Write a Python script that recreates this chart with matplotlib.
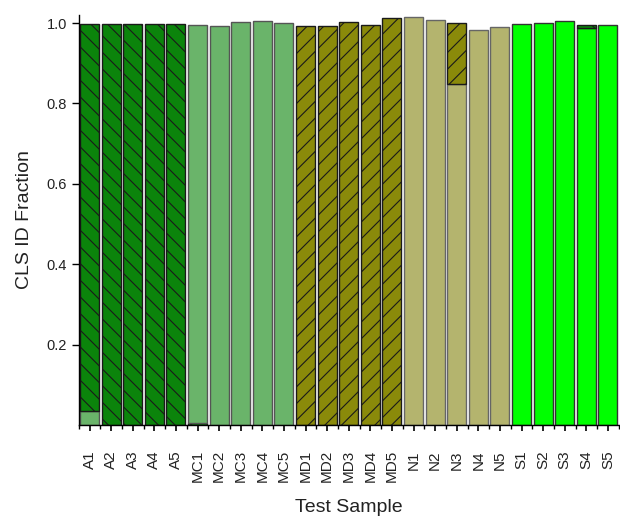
import matplotlib
matplotlib.use("Agg")
import matplotlib.pyplot as plt
from matplotlib.ticker import FixedLocator

plt.rcParams['font.family'] = ['Liberation Sans', 'DejaVu Sans']
plt.rcParams['hatch.linewidth'] = 0.8

# Samples and the class of each bar segment
samples = ['A1', 'A2', 'A3', 'A4', 'A5',
           'MC1', 'MC2', 'MC3', 'MC4', 'MC5',
           'MD1', 'MD2', 'MD3', 'MD4', 'MD5',
           'N1', 'N2', 'N3', 'N4', 'N5',
           'S1', 'S2', 'S3', 'S4', 'S5']

# bottom segment of each bar
lower_class = ['MC', 'A', 'A', 'A', 'A',
               'A', 'MC', 'MC', 'MC', 'MC',
               'MD', 'MD', 'MD', 'MD', 'MD',
               'N', 'N', 'N', 'N', 'N',
               'S', 'S', 'S', 'S', 'S']
lower_frac = [0.035, 0.998, 0.998, 0.998, 0.998,
              0.005, 0.993, 1.003, 1.004, 0.999,
              0.992, 0.993, 1.003, 0.995, 1.012,
              1.014, 1.007, 0.848, 0.983, 0.990,
              0.998, 0.999, 1.004, 0.988, 0.995]

# top segment of each bar (misclassified part)
upper_class = ['A', None, None, None, None,
               'MC', None, None, None, None,
               None, None, None, None, None,
               None, None, 'MD', None, None,
               None, None, None, 'A', None]
upper_frac = [0.963, 0, 0, 0, 0,
              0.991, 0, 0, 0, 0,
              0, 0, 0, 0, 0,
              0, 0, 0.152, 0, 0,
              0, 0, 0, 0.007, 0]

# class styles
class_color = {'A': '#0b840b', 'MC': '#6ab46a', 'MD': '#8a8a0a', 'N': '#b4b46e', 'S': '#00ff00'}
class_hatch = {'A': '\\\\', 'MC': None, 'MD': '//', 'N': None, 'S': None}
class_edge = {'A': '#1a1a1a', 'MC': '#555555', 'MD': '#1a1a1a', 'N': '#666666', 'S': '#333333'}

fig = plt.figure(figsize=(6.2, 5.19), dpi=100)
ax = fig.add_axes([0.127, 0.181, 0.871, 0.79])

x = list(range(len(samples)))
bar_width = 0.88

for i in x:
    c = lower_class[i]
    ax.bar(i, lower_frac[i], width=bar_width, color=class_color[c],
           edgecolor=class_edge[c], hatch=class_hatch[c], linewidth=1.0)
    if upper_class[i] is not None and upper_frac[i] > 0:
        c2 = upper_class[i]
        ax.bar(i, upper_frac[i], bottom=lower_frac[i], width=bar_width,
               color=class_color[c2], edgecolor=class_edge[c2],
               hatch=class_hatch[c2], linewidth=1.0)

ax.set_xlim(-0.5, len(samples) - 0.5)
ax.set_ylim(0, 1.02)

ax.set_xticks(x)
ax.set_xticklabels(samples, rotation=90, fontsize=11, color='#222222')
ax.xaxis.set_minor_locator(FixedLocator([i + 0.5 for i in range(-1, len(samples))]))
ax.tick_params(axis='x', which='major', direction='out', length=4, width=1.2, pad=14)
ax.tick_params(axis='x', which='minor', direction='out', length=3, width=1.0)

ax.yaxis.set_major_locator(FixedLocator([0.2, 0.4, 0.6, 0.8, 1.0]))
ax.set_yticklabels(['0.2', '0.4', '0.6', '0.8', '1.0'], fontsize=10.5, color='#222222')
ax.tick_params(axis='y', direction='out', length=5, width=1.0)

ax.spines['top'].set_visible(False)
ax.spines['right'].set_visible(False)
ax.spines['left'].set_linewidth(1.0)
ax.spines['bottom'].set_linewidth(1.0)

ax.set_xlabel('Test Sample', fontsize=14, labelpad=12, color='#222222')
ax.set_ylabel('CLS ID Fraction', fontsize=14, labelpad=10, color='#222222')

fig.savefig('out.png', dpi=100)
